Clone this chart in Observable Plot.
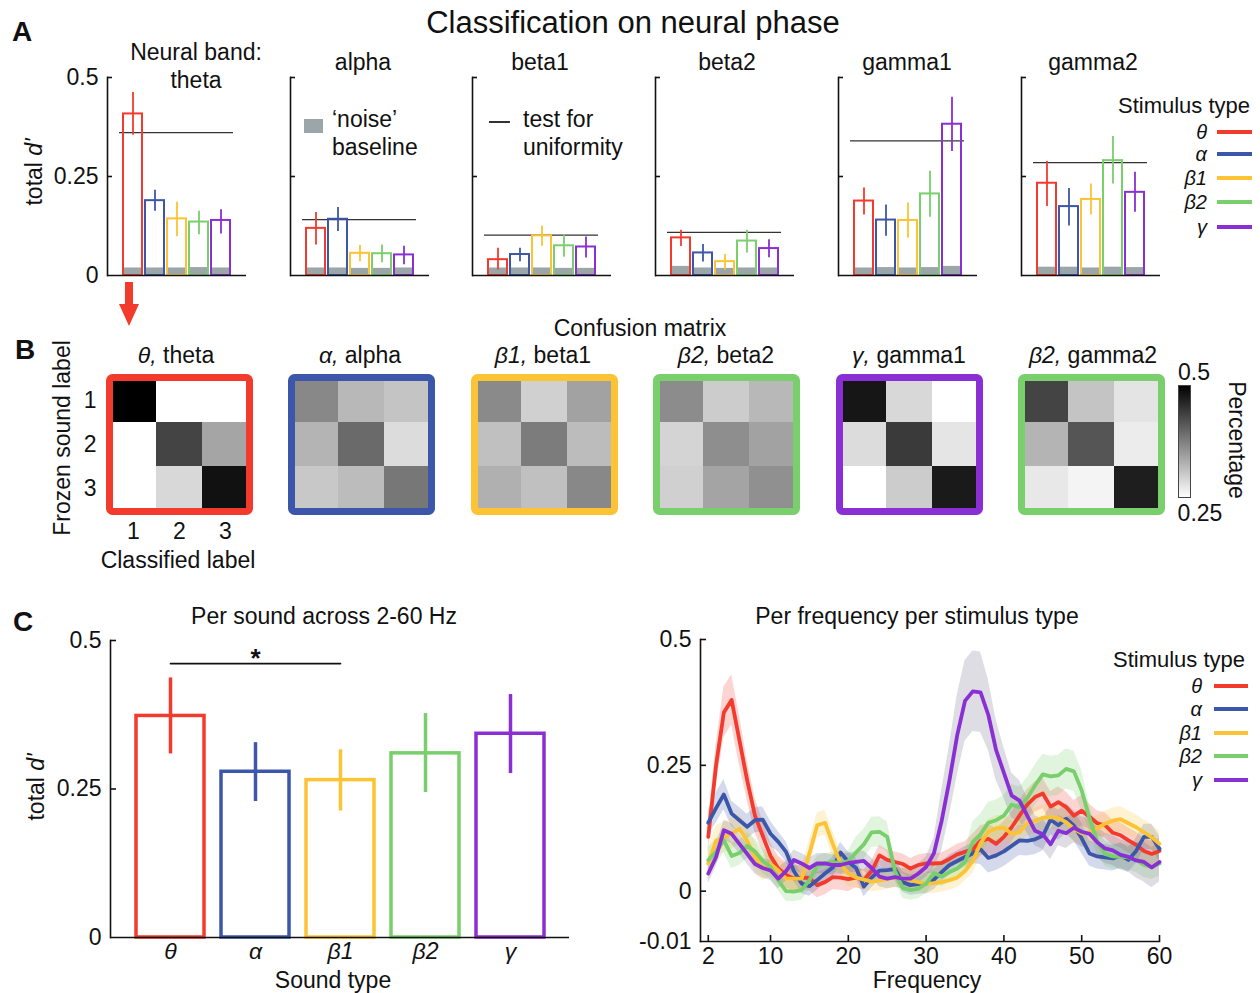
<!DOCTYPE html>
<html><head><meta charset="utf-8">
<script src="https://cdn.jsdelivr.net/npm/d3@7"></script>
<script src="https://cdn.jsdelivr.net/npm/@observablehq/plot@0.6"></script>
<style>
body{margin:0;background:#fff;}
#fig{position:relative;width:1260px;height:993px;overflow:hidden;background:#fff;font-family:"Liberation Sans",Arial,Helvetica,sans-serif;color:#111;}
.t{position:absolute;white-space:nowrap;line-height:1;}
.sw{position:absolute;}
svg.p{position:absolute;overflow:visible;}
</style></head><body><div id="fig"></div>
<script>
// ---------------- DATA ----------------
const stimTypes = ["θ", "α", "β1", "β2", "γ"];
const stimColors = ["#f33b2d", "#3c57a9", "#fcc434", "#78cf6b", "#8a2fd3"];
const bandFills = ["#f33b2d", "#3c57a9", "#fcc434", "#78cf6b", "#6f6384"];
const neuralBands = ["theta", "alpha", "beta1", "beta2", "gamma1", "gamma2"];

// Panel A: total d' per neural band (rows) and stimulus type (columns)
const aValues = [
  [0.408, 0.189, 0.143, 0.135, 0.139],
  [0.119, 0.142, 0.056, 0.055, 0.052],
  [0.040, 0.053, 0.100, 0.075, 0.072],
  [0.095, 0.057, 0.035, 0.087, 0.068],
  [0.188, 0.140, 0.139, 0.206, 0.382],
  [0.233, 0.174, 0.192, 0.290, 0.210]
];
const aErrLo = [
  [0.354, 0.162, 0.098, 0.103, 0.105],
  [0.077, 0.111, 0.035, 0.032, 0.027],
  [0.014, 0.035, 0.074, 0.046, 0.044],
  [0.073, 0.034, 0.014, 0.057, 0.045],
  [0.153, 0.099, 0.094, 0.147, 0.313],
  [0.174, 0.125, 0.153, 0.231, 0.160]
];
const aErrHi = [
  [0.462, 0.215, 0.185, 0.162, 0.166],
  [0.159, 0.172, 0.076, 0.077, 0.074],
  [0.069, 0.069, 0.125, 0.103, 0.097],
  [0.114, 0.078, 0.053, 0.114, 0.090],
  [0.221, 0.178, 0.183, 0.263, 0.450],
  [0.288, 0.220, 0.231, 0.351, 0.261]
];
const aNoise = [
  [0.019, 0.019, 0.019, 0.020, 0.019],
  [0.019, 0.019, 0.018, 0.018, 0.019],
  [0.019, 0.019, 0.019, 0.018, 0.018],
  [0.023, 0.019, 0.018, 0.019, 0.019],
  [0.019, 0.020, 0.019, 0.020, 0.023],
  [0.021, 0.021, 0.019, 0.021, 0.020]
];
const aThreshold = [0.361, 0.141, 0.102, 0.109, 0.340, 0.285];
const aYTicks = [0, 0.25, 0.5];

// Panel B: confusion matrices (rows: frozen sound label, cols: classified label)
const matrixStim = ["θ", "α", "β1", "β2", "γ", "β2"];
const confusion = [
  [[0.500, 0.250, 0.250], [0.250, 0.433, 0.338], [0.250, 0.288, 0.483]],
  [[0.367, 0.320, 0.308], [0.324, 0.396, 0.284], [0.304, 0.316, 0.383]],
  [[0.365, 0.296, 0.341], [0.312, 0.378, 0.316], [0.327, 0.312, 0.367]],
  [[0.363, 0.300, 0.320], [0.292, 0.361, 0.341], [0.296, 0.339, 0.359]],
  [[0.478, 0.288, 0.250], [0.284, 0.443, 0.275], [0.250, 0.300, 0.475]],
  [[0.433, 0.308, 0.276], [0.324, 0.417, 0.269], [0.273, 0.261, 0.471]]
];
const soundLabels = ["1", "2", "3"];
const colorDomain = [0.25, 0.5];

// Panel C left: per sound across 2-60 Hz
const cValues = [0.373, 0.279, 0.265, 0.310, 0.343];
const cErrLo = [0.309, 0.229, 0.213, 0.244, 0.276];
const cErrHi = [0.437, 0.328, 0.316, 0.377, 0.409];
const sigPair = ["θ", "β1"];
const sigLevel = 0.461;

// Panel C right: per frequency per stimulus type
const freqs = [2,3,4,5,6,7,8,9,10,11,12,13,14,15,16,17,18,19,20,21,22,23,24,25,26,27,28,29,30,31,32,33,34,35,36,37,38,39,40,41,42,43,44,45,46,47,48,49,50,51,52,53,54,55,56,57,58,59,60];
const freqTheta = [0.108,0.250,0.355,0.380,0.300,0.220,0.150,0.110,0.070,0.045,0.032,0.025,0.027,0.026,0.012,0.018,0.028,0.027,0.024,0.027,0.022,0.040,0.071,0.062,0.058,0.054,0.045,0.052,0.055,0.055,0.056,0.064,0.073,0.078,0.083,0.100,0.104,0.094,0.108,0.127,0.150,0.172,0.187,0.194,0.168,0.177,0.167,0.150,0.160,0.148,0.135,0.131,0.116,0.111,0.101,0.092,0.080,0.074,0.080];
const freqAlpha = [0.136,0.165,0.192,0.154,0.141,0.128,0.141,0.142,0.114,0.098,0.078,0.040,0.015,0.010,0.022,0.035,0.047,0.077,0.058,0.046,0.009,0.027,0.041,0.042,0.044,0.018,0.012,0.014,0.015,0.023,0.038,0.052,0.060,0.068,0.075,0.083,0.066,0.071,0.079,0.090,0.101,0.100,0.103,0.110,0.142,0.131,0.144,0.130,0.105,0.075,0.069,0.067,0.065,0.071,0.062,0.080,0.108,0.108,0.084];
const freqBeta1 = [0.055,0.100,0.107,0.114,0.124,0.100,0.068,0.045,0.054,0.041,0.025,0.025,0.025,0.075,0.131,0.136,0.094,0.055,0.035,0.027,0.023,0.019,0.021,0.024,0.027,0.026,0.022,0.018,0.015,0.016,0.018,0.022,0.027,0.040,0.060,0.095,0.118,0.125,0.126,0.114,0.117,0.135,0.140,0.146,0.147,0.145,0.137,0.124,0.115,0.117,0.125,0.134,0.140,0.143,0.135,0.127,0.117,0.107,0.094];
const freqBeta2 = [0.062,0.078,0.101,0.070,0.076,0.090,0.079,0.060,0.048,0.021,0.000,-0.001,0.002,0.022,0.050,0.055,0.058,0.055,0.060,0.077,0.093,0.117,0.118,0.108,0.040,0.006,0.002,0.005,0.015,0.036,0.029,0.038,0.045,0.058,0.098,0.113,0.136,0.141,0.150,0.172,0.167,0.185,0.210,0.232,0.228,0.230,0.243,0.238,0.200,0.145,0.098,0.074,0.069,0.068,0.067,0.062,0.052,0.048,0.055];
const freqGamma = [0.035,0.068,0.121,0.114,0.094,0.074,0.054,0.046,0.041,0.025,0.040,0.062,0.055,0.046,0.055,0.055,0.052,0.052,0.056,0.058,0.060,0.046,0.029,0.025,0.028,0.025,0.025,0.035,0.048,0.075,0.140,0.220,0.310,0.378,0.397,0.395,0.350,0.280,0.235,0.190,0.180,0.150,0.120,0.113,0.093,0.120,0.115,0.126,0.118,0.114,0.097,0.085,0.081,0.072,0.068,0.061,0.058,0.047,0.058];
const semTheta = [0.030,0.040,0.050,0.050,0.050,0.040,0.035,0.030,0.025,0.025,0.025,0.025,0.025,0.025,0.025,0.025,0.025,0.025,0.025,0.020,0.020,0.020,0.020,0.020,0.020,0.020,0.020,0.020,0.020,0.020,0.020,0.020,0.020,0.020,0.030,0.030,0.030,0.030,0.030,0.030,0.030,0.030,0.030,0.030,0.030,0.030,0.030,0.030,0.030,0.025,0.025,0.025,0.025,0.025,0.025,0.025,0.025,0.025,0.025];
const semAlpha = [0.025,0.030,0.030,0.025,0.025,0.025,0.025,0.025,0.025,0.020,0.020,0.020,0.020,0.020,0.020,0.020,0.020,0.020,0.020,0.020,0.020,0.020,0.020,0.020,0.020,0.020,0.020,0.020,0.020,0.020,0.020,0.020,0.020,0.020,0.020,0.030,0.030,0.030,0.030,0.030,0.030,0.030,0.030,0.030,0.030,0.030,0.030,0.030,0.030,0.025,0.025,0.025,0.025,0.025,0.025,0.025,0.025,0.025,0.025];
const semBeta1 = [0.030,0.030,0.030,0.030,0.030,0.030,0.030,0.025,0.025,0.025,0.025,0.025,0.025,0.025,0.025,0.025,0.025,0.025,0.025,0.020,0.020,0.020,0.020,0.020,0.020,0.020,0.020,0.020,0.020,0.020,0.020,0.020,0.020,0.020,0.025,0.025,0.025,0.025,0.025,0.025,0.025,0.025,0.025,0.025,0.025,0.025,0.025,0.025,0.025,0.025,0.025,0.025,0.025,0.025,0.025,0.025,0.025,0.025,0.025];
const semBeta2 = [0.025,0.025,0.025,0.025,0.025,0.025,0.025,0.025,0.025,0.020,0.020,0.020,0.020,0.020,0.020,0.020,0.020,0.020,0.020,0.030,0.030,0.030,0.030,0.030,0.020,0.020,0.020,0.020,0.020,0.020,0.020,0.020,0.020,0.020,0.040,0.040,0.040,0.040,0.040,0.040,0.040,0.040,0.040,0.040,0.040,0.040,0.040,0.040,0.040,0.025,0.025,0.025,0.025,0.025,0.025,0.025,0.025,0.025,0.025];
const semGamma = [0.020,0.020,0.020,0.020,0.020,0.020,0.020,0.020,0.020,0.020,0.020,0.020,0.020,0.020,0.020,0.020,0.020,0.020,0.020,0.020,0.020,0.020,0.020,0.020,0.020,0.020,0.020,0.020,0.020,0.030,0.060,0.070,0.080,0.080,0.080,0.080,0.070,0.060,0.050,0.045,0.040,0.035,0.030,0.030,0.030,0.030,0.030,0.030,0.030,0.030,0.030,0.030,0.030,0.030,0.030,0.035,0.040,0.040,0.040];
const freqSeries = [freqTheta, freqAlpha, freqBeta1, freqBeta2, freqGamma];
const freqSem = [semTheta, semAlpha, semBeta1, semBeta2, semGamma];
const freqXTicks = [2, 10, 20, 30, 40, 50, 60];
const freqYTicks = [-0.1, 0, 0.25, 0.5];
const freqYTickLabels = ["-0.01", "0", "0.25", "0.5"];

// ---------------- LAYOUT / HELPERS ----------------
const fig = document.getElementById("fig");
const FONT = "Liberation Sans, Arial, Helvetica, sans-serif";
const FS = 23;
const LEG = 20;
const baseStyle = {fontFamily: FONT, fontSize: FS + "px", background: "transparent", color: "#111", overflow: "visible"};

function txt(html, x, y, size = FS, o = {}) {
  const d = document.createElement("div");
  d.className = "t";
  d.innerHTML = html;
  d.style.left = x + "px";
  d.style.top = y + "px";
  d.style.fontSize = size + "px";
  const ax = o.anchor === "start" ? "0" : o.anchor === "end" ? "-100%" : "-50%";
  d.style.transform = `translate(${ax},-50%)` + (o.rotate ? ` rotate(${o.rotate}deg)` : "");
  if (o.bold) d.style.fontWeight = "bold";
  fig.appendChild(d);
  return d;
}
function swatch(x, y, w, h, color) {
  const d = document.createElement("div");
  d.className = "sw";
  Object.assign(d.style, {left: x + "px", top: y + "px", width: w + "px", height: h + "px", background: color});
  fig.appendChild(d);
}
function put(svg, left, top) {
  svg.classList.add("p");
  svg.style.left = left + "px";
  svg.style.top = top + "px";
  fig.appendChild(svg);
}

// ---------------- PANEL A ----------------
const aAxisLeft = [107, 290, 472, 655, 838, 1021];
const aFrameW = 139, aFrameH = 198, aTop = 77;
neuralBands.forEach((band, i) => {
  const data = stimTypes.map((s, j) => ({stim: s, v: aValues[i][j], lo: aErrLo[i][j], hi: aErrHi[i][j], noise: aNoise[i][j], color: stimColors[j]}));
  const ML = 50, MR = 5, MT = 10, MB = 5;
  const marks = [
    Plot.barY(data, {x: "stim", y: "noise", fill: "#9ba6a9"}),
    Plot.ruleY([aThreshold[i]], {y: d => d, stroke: "#333", strokeWidth: 1.3, insetLeft: 12, insetRight: 13}),
    Plot.barY(data, {x: "stim", y: "v", stroke: "color", fill: "none", strokeWidth: 2}),
    Plot.ruleX(data, {x: "stim", y1: "lo", y2: "hi", stroke: "color", strokeWidth: 1.8}),
    Plot.ruleY([0], {stroke: "#111", strokeWidth: 1.6}),
    Plot.frame({anchor: "left", stroke: "#111", strokeWidth: 1.6}),
    Plot.tickY([0.25, 0.5], {y: d => d, insetRight: aFrameW - 5, stroke: "#111", strokeWidth: 1.6})
  ];
  if (i === 0) marks.push(Plot.axisY(aYTicks, {tickSize: 0, tickPadding: 9, label: null, tickFormat: d => String(d)}));
  const svg = Plot.plot({
    width: ML + aFrameW + MR, height: MT + aFrameH + MB,
    marginLeft: ML, marginRight: MR, marginTop: MT, marginBottom: MB,
    style: baseStyle,
    x: {domain: stimTypes, paddingInner: 0.15, paddingOuter: 0.6, axis: null},
    y: {domain: [0, 0.5], axis: null},
    marks
  });
  put(svg, aAxisLeft[i] - ML, aTop - MT);
});
txt("Classification on neural phase", 633, 22, 31);
txt("A", 22, 32, 28, {bold: true});
txt("Neural band:", 196, 52);
txt("theta", 196, 80);
[[363, "alpha"], [540, "beta1"], [727, "beta2"], [907, "gamma1"], [1093, "gamma2"]].forEach(([x, s]) => txt(s, x, 62));
txt("total <i>d'</i>", 34, 172, FS, {rotate: -90});
// legends inside panel A
swatch(304, 119, 19, 14, "#9ba6a9");
txt("‘noise’", 332, 119, FS, {anchor: "start"});
txt("baseline", 332, 147, FS, {anchor: "start"});
swatch(489, 121, 21, 1.5, "#333");
txt("test for", 523, 119, FS, {anchor: "start"});
txt("uniformity", 523, 147, FS, {anchor: "start"});
txt("Stimulus type", 1184, 106, 22);
const aLegY = [132, 154, 178, 202, 227];
stimTypes.forEach((s, j) => {
  txt(`<i>${s}</i>`, 1207, aLegY[j], LEG, {anchor: "end"});
  swatch(1217, aLegY[j] - 2, 35, 4, stimColors[j]);
});
// red arrow theta -> B
(function () {
  const ns = "http://www.w3.org/2000/svg";
  const s = document.createElementNS(ns, "svg");
  s.setAttribute("width", 24); s.setAttribute("height", 46);
  s.style.position = "absolute"; s.style.left = "117px"; s.style.top = "282px";
  s.innerHTML = `<rect x="8" y="0" width="8" height="24" fill="${stimColors[0]}"/><path d="M2 22 L22 22 L12 44 Z" fill="${stimColors[0]}"/>`;
  fig.appendChild(s);
})();

// ---------------- PANEL B ----------------
const bOuterLeft = [105, 287, 470, 652, 835, 1017];
const bFrameW = 140, bFrameH = 134, bFrameTop = 376.5;
confusion.forEach((mat, i) => {
  const cells = [];
  mat.forEach((row, r) => row.forEach((v, c) => cells.push({frozen: soundLabels[r], classified: soundLabels[c], v})));
  const ML = 40, MR = 6, MT = 6, MB = 40;
  const color = stimColors[stimTypes.indexOf(matrixStim[i])];
  const marks = [
    Plot.cell(cells, {x: "classified", y: "frozen", fill: "v", inset: 0}),
    Plot.frame({stroke: color, strokeWidth: 7, rx: 3})
  ];
  if (i === 0) {
    marks.push(Plot.axisY({tickSize: 0, tickPadding: 13, label: null}));
    marks.push(Plot.axisX({tickSize: 0, tickPadding: 11, label: null}));
  }
  const svg = Plot.plot({
    width: ML + bFrameW + MR, height: MT + bFrameH + MB,
    marginLeft: ML, marginRight: MR, marginTop: MT, marginBottom: MB,
    style: baseStyle,
    x: {domain: soundLabels, padding: 0, axis: null},
    y: {domain: soundLabels, padding: 0, axis: null},
    color: {type: "linear", domain: colorDomain, range: ["white", "black"]},
    marks
  });
  put(svg, bOuterLeft[i] + 3.5 - ML, bFrameTop - MT);
});
txt("B", 25, 350, 28, {bold: true});
txt("Confusion matrix", 640, 328);
const bTitleX = [176, 360, 543, 726, 909, 1093];
neuralBands.forEach((b, i) => txt(`<i>${matrixStim[i]},</i> ${b}`, bTitleX[i], 355));
txt("Frozen sound label", 62, 438, FS, {rotate: -90});
txt("Classified label", 178, 560);
// colorbar
put(Plot.plot({
  width: 14, height: 114, margin: 1,
  style: baseStyle,
  x: {domain: [0, 1], axis: null},
  y: {domain: colorDomain, axis: null},
  color: {type: "linear", domain: colorDomain, range: ["white", "black"]},
  marks: [
    Plot.raster({fill: (x, y) => y, x1: 0, x2: 1, y1: colorDomain[0], y2: colorDomain[1]}),
    Plot.frame({stroke: "#444"})
  ]
}), 1177, 384);
txt("0.5", 1194, 372);
txt("0.25", 1200, 513);
txt("Percentage", 1236, 440, FS, {rotate: 90});

// ---------------- PANEL C left ----------------
(function () {
  const data = stimTypes.map((s, j) => ({stim: s, v: cValues[j], lo: cErrLo[j], hi: cErrHi[j], color: stimColors[j]}));
  const sig = sigPair.map(s => ({stim: s, y: sigLevel}));
  const mid = stimTypes[Math.round((stimTypes.indexOf(sigPair[0]) + stimTypes.indexOf(sigPair[1])) / 2)];
  const ML = 60, MR = 10, MT = 10, MB = 40, W = 459, H = 297;
  const svg = Plot.plot({
    width: ML + W + MR, height: MT + H + MB,
    marginLeft: ML, marginRight: MR, marginTop: MT, marginBottom: MB,
    style: baseStyle,
    x: {domain: stimTypes, paddingInner: 0.2, paddingOuter: 0.27, axis: null},
    y: {domain: [0, 0.5], axis: null},
    marks: [
      Plot.barY(data, {x: "stim", y: "v", stroke: "color", fill: "none", strokeWidth: 3.5}),
      Plot.ruleX(data, {x: "stim", y1: "lo", y2: "hi", stroke: "color", strokeWidth: 3.5}),
      Plot.line(sig, {x: "stim", y: "y", stroke: "#111", strokeWidth: 1.6}),
      Plot.text([{stim: mid, y: sigLevel}], {x: "stim", y: "y", text: () => "*", dy: -5, fontSize: 26, fontWeight: "bold"}),
      Plot.ruleY([0], {stroke: "#111", strokeWidth: 1.6}),
      Plot.frame({anchor: "left", stroke: "#111", strokeWidth: 1.6}),
      Plot.tickY([0.25, 0.5], {y: d => d, insetRight: W - 6, stroke: "#111", strokeWidth: 1.6}),
      Plot.axisY(aYTicks, {tickSize: 0, tickPadding: 9, label: null, tickFormat: d => String(d)}),
      Plot.axisX({tickSize: 0, tickPadding: 5, label: null, fontStyle: "italic"})
    ]
  });
  put(svg, 110 - ML, 640 - MT);
})();
txt("C", 23, 622, 28, {bold: true});
txt("Per sound across 2-60 Hz", 324, 616);
txt("total <i>d'</i>", 36, 787, FS, {rotate: -90});
txt("Sound type", 333, 980);

// ---------------- PANEL C right ----------------
(function () {
  const rows = [];
  stimTypes.forEach((s, k) => freqs.forEach((f, i) => rows.push({
    stim: s, f, v: freqSeries[k][i], lo: freqSeries[k][i] - freqSem[k][i], hi: freqSeries[k][i] + freqSem[k][i],
    color: stimColors[k], band: bandFills[k]
  })));
  const ML = 60, MR = 10, MT = 10, MB = 40, W = 459, H = 302;
  const svg = Plot.plot({
    width: ML + W + MR, height: MT + H + MB,
    marginLeft: ML, marginRight: MR, marginTop: MT, marginBottom: MB,
    style: baseStyle,
    x: {domain: [1, 60], axis: null},
    y: {domain: [-0.1, 0.5], axis: null},
    marks: [
      Plot.areaY(rows, {x: "f", y1: "lo", y2: "hi", z: "stim", fill: "band", fillOpacity: 0.22}),
      Plot.line(rows, {x: "f", y: "v", z: "stim", stroke: "color", strokeWidth: 3.8}),
      Plot.frame({anchor: "left", stroke: "#111", strokeWidth: 1.6}),
      Plot.frame({anchor: "bottom", stroke: "#111", strokeWidth: 1.6}),
      Plot.tickY([0, 0.25, 0.5], {y: d => d, insetRight: W - 6, stroke: "#111", strokeWidth: 1.6}),
      Plot.tickX(freqXTicks, {x: d => d, insetTop: H - 6, stroke: "#111", strokeWidth: 1.6}),
      Plot.axisY(freqYTicks, {tickSize: 0, tickPadding: 9, label: null, tickFormat: d => freqYTickLabels[freqYTicks.indexOf(d)]}),
      Plot.axisX(freqXTicks, {tickSize: 0, tickPadding: 6, label: null, tickFormat: d => String(d)})
    ]
  });
  put(svg, 700 - ML, 639 - MT);
})();
txt("Per frequency per stimulus type", 917, 616);
txt("Frequency", 927, 980);
txt("Stimulus type", 1179, 660, 22);
const cLegY = [686, 709, 733, 756, 780];
stimTypes.forEach((s, j) => {
  txt(`<i>${s}</i>`, 1202, cLegY[j], LEG, {anchor: "end"});
  swatch(1214, cLegY[j] - 2, 34, 4, stimColors[j]);
});
</script></body></html>
